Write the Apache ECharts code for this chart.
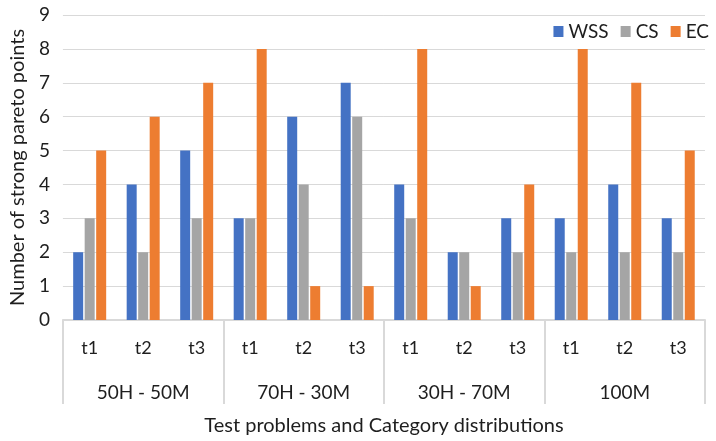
<!DOCTYPE html>
<html>
<head>
<meta charset="utf-8">
<script src="https://cdn.jsdelivr.net/npm/echarts@6/dist/echarts.min.js"></script>
<style>
  html, body { margin: 0; padding: 0; background: #fff; }
  #chart { width: 716px; height: 441px; }
</style>
</head>
<body>
<div id="chart"></div>
<script>
// Test problems within each category distribution
const problems = ['t1', 't2', 't3', 't1', 't2', 't3', 't1', 't2', 't3', 't1', 't2', 't3'];
const groups = ['50H - 50M', '70H - 30M', '30H - 70M', '100M'];
const yTicks = [0, 1, 2, 3, 4, 5, 6, 7, 8, 9];

// Number of strong pareto points per method
const wss = [2, 4, 5, 3, 6, 7, 4, 2, 3, 3, 4, 3];
const cs  = [3, 2, 3, 3, 4, 6, 3, 2, 2, 2, 2, 2];
const ec  = [5, 6, 7, 8, 1, 1, 8, 1, 4, 8, 7, 5];

const FONT = 'Lato, "Noto Sans", sans-serif';
const TXT = '#1e1e1e';
const LINE = '#d9d9d9';

const chart = echarts.init(document.getElementById('chart'), null, { renderer: 'canvas' });

function bar(name, data, color) {
  return {
    name, type: 'bar', data,
    xAxisIndex: 0,
    barWidth: 10,
    barGap: '15%',
    itemStyle: { color },
    emphasis: { disabled: true }
  };
}

chart.setOption({
  animation: false,
  textStyle: { fontFamily: FONT },
  grid: { left: 59, right: 11, top: 15, bottom: 119 },
  legend: {
    right: 2, top: 17,
    itemWidth: 10, itemHeight: 11, itemGap: 12,
    icon: 'rect',
    textStyle: { fontFamily: FONT, fontSize: 19, color: TXT },
    data: ['WSS', 'CS', 'EC']
  },
  xAxis: [
    {
      type: 'category',
      data: problems,
      position: 'bottom',
      axisLine: { show: true, lineStyle: { color: LINE, width: 2 } },
      axisTick: { show: false },
      axisLabel: { margin: 19, fontSize: 18, color: TXT, fontFamily: FONT },
      name: 'Test problems and Category distributions',
      nameLocation: 'middle',
      nameGap: 96,
      nameTextStyle: { fontSize: 20, color: TXT, fontFamily: FONT }
    },
    {
      type: 'category',
      data: groups,
      position: 'bottom',
      axisLine: { show: false },
      axisTick: { show: true, length: 84, lineStyle: { color: LINE, width: 2 } },
      axisLabel: { margin: 63, fontSize: 19, color: TXT, fontFamily: FONT }
    }
  ],
  yAxis: {
    type: 'value',
    min: yTicks[0],
    max: yTicks[yTicks.length - 1],
    interval: 1,
    axisLine: { show: false },
    axisTick: { show: false },
    splitLine: { lineStyle: { color: LINE, width: 1 } },
    axisLabel: { margin: 13, fontSize: 19, color: TXT, fontFamily: FONT },
    name: 'Number of strong pareto points',
    nameLocation: 'middle',
    nameGap: 34,
    nameTextStyle: { fontSize: 20, color: TXT, fontFamily: FONT }
  },
  series: [
    bar('WSS', wss, '#4472C4'),
    bar('CS', cs, '#A5A5A5'),
    bar('EC', ec, '#ED7D31')
  ]
});
</script>
</body>
</html>
